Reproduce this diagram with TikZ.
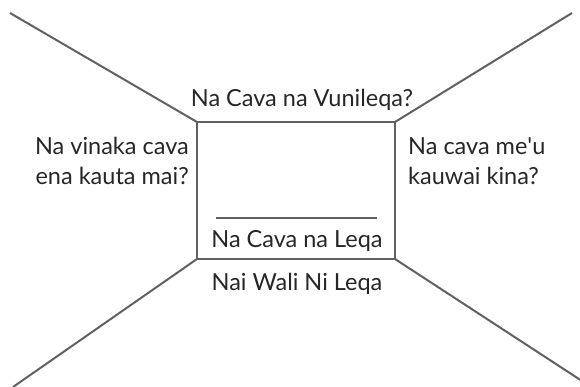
\documentclass[tikz,border=0pt]{standalone}
\usepackage{fontspec}
\setmainfont{Lato}
\begin{document}
\begin{tikzpicture}[x=1pt,y=-1pt,
  edge/.style={draw=black!62,line width=2pt},
  lbl/.style={font=\fontsize{23.5}{30}\selectfont,text=black!85,inner sep=0pt}]
\useasboundingbox (0,0) rectangle (580,387);
\coordinate (tl) at (197,122);
\coordinate (tr) at (395,122);
\coordinate (br) at (395,259);
\coordinate (bl) at (197,259);
\coordinate (etl) at (10,13);
\coordinate (etr) at (572,13);
\coordinate (ebl) at (13,387);
\coordinate (ebr) at (582,381);
\draw[edge] (tl) -- (tr) -- (br) -- (bl) -- cycle;
\draw[edge] (etl) -- (tl);
\draw[edge] (etr) -- (tr);
\draw[edge] (ebl) -- (bl);
\draw[edge] (ebr) -- (br);
\coordinate (ia) at (216,218);
\coordinate (ib) at (377,218);
\draw[edge] (ia) -- (ib);
\node[lbl,anchor=base] (top) at (302,107) {Na Cava na Vunileqa?};
\node[lbl,anchor=base east,align=right] (left) at (189,185) {Na vinaka cava\\ena kauta mai?};
\node[lbl,anchor=base west,align=left] (right) at (408,185) {Na cava me\textquotesingle u\\kauwai kina?};
\node[lbl,anchor=base] (inner) at (297,247) {Na Cava na Leqa};
\node[lbl,anchor=base] (bottom) at (297,290) {Nai Wali Ni Leqa};
\end{tikzpicture}
\end{document}
